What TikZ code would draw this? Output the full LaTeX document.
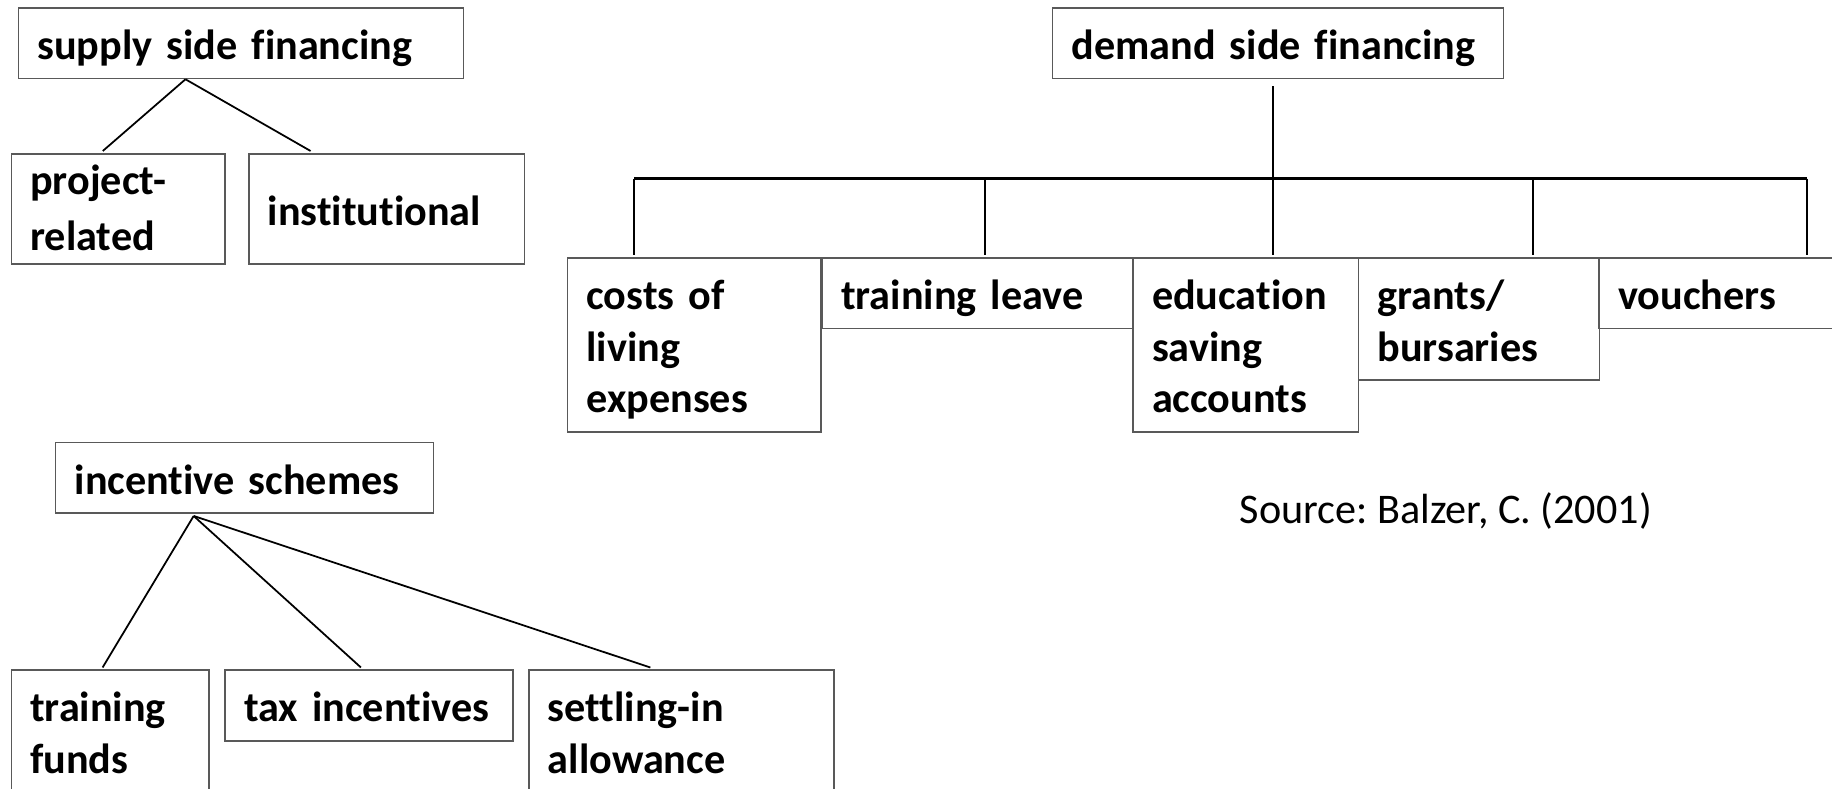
\documentclass[tikz,border=0pt]{standalone}
\usepackage{fontspec}
\setmainfont{Carlito}[Ligatures=NoCommon]
\frenchspacing
\newcommand{\cellstrut}{\rule[-2.7pt]{0pt}{14.7pt}}
\begin{document}
\begin{tikzpicture}[x=0.01cm, y=-0.01cm,
    cell/.style={draw=black!65, line width=0.45pt, anchor=north west, align=left,
      inner xsep=0.19cm, inner ysep=0.095cm,
      font=\fontsize{12}{14.7}\selectfont\bfseries,
      execute at begin node=\cellstrut, execute at end node=\cellstrut},
    link/.style={line width=0.5pt}]
    \useasboundingbox (0,0) rectangle (1832,789);
    \clip (0,0) rectangle (1832,789);

    % supply side
    \node [cell, text width=4.07cm] (supply) at (17.5,7) {supply side financing};
    \node [cell, text width=1.755cm, inner ysep=0.06cm, font=\fontsize{12}{13.6}\selectfont\bfseries,
      execute at begin node={}, execute at end node={}, text height=0.35cm, text depth=0.63cm] (project) at (10.5,153) {project-\\related};
    \node [cell, text width=2.375cm, minimum height=1.1cm] (inst) at (248,153) {institutional};
    \draw [link] ([xshift=-0.554cm]supply.south) -- ([xshift=-0.153cm, yshift=0.02cm]project.north);
    \draw [link] ([xshift=-0.554cm]supply.south) -- ([xshift=-0.76cm, yshift=0.02cm]inst.north);

    % demand side
    \node [cell, text width=4.13cm] (demand) at (1051.6,7) {demand side financing};
    \node [cell, text width=2.155cm] (costs) at (566.7,257) {costs of\\living\\expenses};
    \node [cell, text width=2.728cm] (leave) at (821.4,257) {training leave};
    \node [cell, text width=1.875cm] (edu) at (1132.2,257) {education\\saving\\accounts};
    \node [cell, text width=2.027cm] (grants) at (1357.7,257) {grants/\\bursaries};
    \node [cell, text width=2.22cm] (vouch) at (1598.4,257) {vouchers};
    \coordinate (hub) at ([xshift=-0.047cm, yshift=-0.993cm]demand.south);
    \draw [link] ([xshift=-0.047cm, yshift=-0.07cm]demand.south) -- (hub);
    \foreach \n/\dx in {costs/-0.6, leave/0.07, edu/0.275, grants/0.538, vouch/0.78} {
      \coordinate (top-\n) at ([xshift=\dx cm, yshift=0.023cm]\n.north);
      \draw [link] (top-\n |- hub) -- (top-\n);
    }
    \draw [link, line width=0.7pt] (top-costs |- hub) -- (top-vouch |- hub);

    % incentives
    \node [cell, text width=3.394cm] (incent) at (54.9,441.7) {incentive schemes};
    \node [cell, text width=1.595cm] (funds) at (10.5,669.5) {training\\funds};
    \node [cell, text width=2.495cm] (tax) at (224.3,669.5) {tax incentives};
    \node [cell, text width=2.669cm] (settle) at (528.1,669.5) {settling-in\\allowance};
    \foreach \n/\dx in {funds/-0.075, tax/-0.08, settle/-0.31}
      \draw [link] ([xshift=-0.508cm, yshift=-0.02cm]incent.south) -- ([xshift=\dx cm, yshift=0.02cm]\n.north);

    \node [font=\fontsize{12}{14.7}\selectfont] (src) at (1445.8,511) {Source: Balzer, C. (2001)};
\end{tikzpicture}
\end{document}
